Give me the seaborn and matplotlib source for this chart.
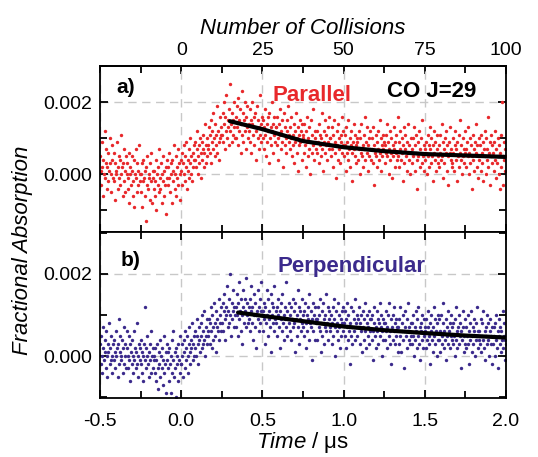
import numpy as np
import pandas as pd
import matplotlib
matplotlib.use("Agg")
import matplotlib.pyplot as plt
import seaborn as sns
from matplotlib.ticker import MultipleLocator, FormatStrFormatter

sns.set_theme(style="ticks")
plt.rcParams['font.family'] = ['Liberation Sans', 'DejaVu Sans']
plt.rcParams['mathtext.fontset'] = 'custom'
plt.rcParams['mathtext.it'] = 'Liberation Sans:italic'
plt.rcParams['mathtext.rm'] = 'Liberation Sans'
plt.rcParams['axes.unicode_minus'] = False
for k in ('text.color', 'axes.labelcolor', 'xtick.color', 'ytick.color', 'axes.edgecolor'):
    plt.rcParams[k] = 'black'
plt.rcParams.update({
    'xtick.direction': 'in', 'ytick.direction': 'in',
    'xtick.major.size': 6, 'ytick.major.size': 6,
    'xtick.minor.size': 5, 'ytick.minor.size': 5,
    'xtick.major.width': 1.3, 'ytick.major.width': 1.3,
    'xtick.minor.width': 1.3, 'ytick.minor.width': 1.3,
    'xtick.minor.visible': True, 'ytick.minor.visible': True,
    'xtick.top': True, 'ytick.right': True,
    'xtick.bottom': True, 'ytick.left': True,
})

# ---- data (absorption values in units of 1e-4), evenly sampled from -0.5 to 2.0 us ----
parallel_vals = [
    5, -3, 1, 9, 2, -6, 4, 0, 12, -1, 3, 7, -4, 2, 6, -2, 1, 10, 3, -5, 0, 8, 4, -1,
    -2, 6, 3, -7, 1, 0, 9, -4, 2, 5, -1, 4, -3, 11, 0, 2, -6, 3, 7, -2, 1, -5, 5, 0,
    3, -4, -1, 6, -8, 0, 2, -3, 5, 1, -6, -2, 4, -9, 0, 7, -1, 3, -5, 1, -3, 8, -2, 0,
    -5, 0, 3, -9, -2, 4, -1, -6, 1, -13, 2, -3, 5, -4, -1, 0, -7, 3, -2, 6, -8, -1, 1, -4,
    1, -6, -2, 4, -10, 0, -3, 2, -5, 7, -1, -4, 3, -8, 0, -2, 5, -6, 1, -3, -11, 2, -1, 4,
    -3, 2, 6, -1, -5, 3, 0, -8, 4, 1, -2, 8, -4, 0, 5, -6, 2, -1, 7, -3, 3, 0, -7, 4,
    1, 6, -3, 3, 8, 0, -2, 5, 2, 9, -4, 4, 1, 7, -1, 3, 10, 0, 5, -2, 6, 2, 8, 4,
    4, 9, 2, 7, 12, 5, 0, 8, 3, 10, 6, -1, 9, 4, 7, 11, 2, 6, 14, 3, 8, 5, 10, 7,
    8, 13, 6, 11, 3, 15, 9, 12, 7, 17, 10, 5, 14, 8, 11, 19, 6, 12, 9, 4, 16, 10, 13, 11,
    11, 17, 9, 20, 14, 7, 16, 12, 22, 10, 15, 13, 8, 18, 12, 25, 14, 9, 17, 11, 15, 20, 13, 10,
    16, 10, 19, 13, 8, 21, 15, 12, 18, 6, 14, 23, 11, 17, 9, 15, 20, 12, 7, 16, 13, 19, 10, 14,
    12, 18, 9, 15, 6, 14, 20, 11, 16, 8, 13, 17, 4, 12, 19, 10, 15, 13, 7, 22, 11, 14, 9, 16,
    10, 15, 7, 13, 18, 11, 5, 14, 9, 16, 12, 3, 17, 10, 13, 8, 20, 12, 6, 14, 11, 16, 9, 13,
    13, 8, 16, 10, 4, 14, 11, 18, 7, 12, 9, 15, 2, 11, 17, 8, 13, 10, 6, 15, 12, 19, 9, 11,
    7, 13, 10, 16, 5, 11, 8, 14, 3, 12, 9, 17, 6, 10, 13, 1, 11, 8, 15, 9, 12, 4, 14, 10,
    11, 6, 14, 8, 2, 12, 9, 16, 5, 10, 7, 13, 0, 9, 15, 6, 11, 8, 18, 4, 10, 12, 7, 9,
    6, 12, 9, 3, 14, 8, 11, 5, 10, 17, 7, 1, 12, 9, 6, 15, 8, 11, 4, 13, 9, 7, 16, 10,
    10, 5, 13, 7, 2, 11, 8, 15, 6, 9, -1, 12, 8, 4, 14, 7, 10, 3, 11, 9, 16, 6, 8, 12,
    5, 11, 8, 1, 13, 6, 9, 4, 15, 7, 10, 2, 8, 12, 6, -2, 9, 7, 14, 5, 11, 3, 8, 10,
    9, 4, 12, 7, 0, 10, 6, 14, 5, 8, 2, 11, 7, 16, 4, 9, 6, 13, 1, 8, 10, 5, 12, 7,
    4, 10, 7, 13, 3, 8, -3, 6, 11, 5, 9, 2, 12, 7, 4, 15, 6, 10, 1, 8, 5, 11, 7, 9,
    8, 3, 11, 6, 14, 5, 9, 0, 7, 12, 4, 10, 6, -1, 8, 5, 13, 7, 2, 9, 6, 11, 4, 16,
    5, 9, 2, 12, 7, 4, 10, 6, -2, 8, 13, 3, 7, 11, 5, 1, 9, 6, 14, 4, 8, 0, 10, 6,
    7, 3, 10, 5, 13, 1, 8, 6, 11, 4, -4, 9, 5, 12, 7, 2, 10, 6, 3, 15, 5, 8, 1, 7,
    4, 9, 6, 0, 11, 5, 8, 2, 13, 7, 3, 10, 5, -2, 8, 6, 12, 4, 9, 1, 7, 11, 5, 3,
    8, 2, 11, 6, 4, 14, 5, 9, -1, 7, 3, 10, 6, 12, 1, 8, 5, -3, 9, 6, 13, 4, 7, 2,
    3, 10, 6, 1, 8, 12, 4, 7, -2, 9, 5, 11, 2, 6, 15, 4, 8, 0, 10, 5, 7, 3, 12, 6,
    7, 2, 9, 5, 13, 0, 6, 10, 3, 8, -4, 5, 11, 4, 7, 1, 9, 6, 14, 2, 8, 5, -1, 10,
    4, 8, 1, 11, 6, 3, 9, -2, 7, 12, 5, 0, 10, 4, 7, 16, 2, 6, 9, -3, 5, 11, 3, 8,
    6, 1, 9, 4, 12, -1, 7, 3, 10, 5, 0, 8, -4, 6, 11, 2, 20, 5, -3, 9, 4, 7, 1, 5,
]
perpendicular_vals = [
    3, -2, 5, 0, -4, 2, 7, -1, 1, 4, -3, 6, 0, -5, 3, 1, 8, -2, 2, -1, 5, -4, 0, 3,
    -1, 4, 1, -3, 6, 0, 2, -5, 3, 9, -2, 1, 5, -1, 0, 4, -4, 2, 7, -2, 3, 0, -3, 6,
    2, -3, 0, 5, -1, -6, 3, 1, -2, 4, 0, -4, 6, -1, 2, -3, 1, 8, -2, 0, -5, 3, -1, 2,
    -2, 4, -4, 1, 0, -6, 3, -1, 12, 2, -3, 0, 5, -2, -5, 1, 3, -1, -4, 6, 0, -3, 2, -1,
    0, -4, 2, -6, -1, 3, -3, -8, 1, -2, 4, -5, 0, -3, 2, -7, -1, 5, -4, -2, 1, -9, -1, 3,
    -3, 1, -6, 2, -2, -9, 0, 4, -4, -1, 6, -5, 1, -3, -10, 2, -2, 0, -6, 3, -1, -4, 5, -2,
    -2, 3, 0, -5, 4, 1, -3, 6, 2, -1, 5, 0, -4, 3, 7, 1, -2, 4, 2, 8, -1, 3, 0, 5,
    2, 6, 0, 5, 9, 3, -2, 7, 4, 1, 8, 5, 10, 2, 6, 3, 11, 4, 0, 7, 5, 9, 3, 6,
    5, 9, 3, 8, 12, 6, 2, 10, 7, 4, 13, 8, 5, 11, 1, 7, 9, 6, 14, 4, 8, 10, 6, 12,
    8, 13, 6, 11, 15, 9, 4, 12, 10, 17, 7, 11, 14, 8, 20, 10, 5, 13, 9, 16, 11, 7, 12, 10,
    12, 7, 15, 10, 5, 13, 9, 18, 11, 6, 14, 10, 3, 12, 16, 8, 11, 14, 7, 19, 10, 13, 8, 12,
    9, 14, 6, 11, 17, 8, 12, 4, 10, 15, 7, 13, 10, 2, 11, 16, 9, 12, 6, 14, 8, 18, 11, 10,
    11, 6, 13, 9, 3, 12, 8, 16, 10, 5, 14, 9, 11, 7, 15, 1, 10, 13, 8, 12, 6, 17, 9, 11,
    8, 12, 5, 10, 14, 7, 11, 2, 9, 13, 6, 15, 8, 10, 4, 12, 9, 18, 7, 11, 5, 9, 13, 8,
    10, 6, 12, 4, 9, 14, 7, 11, 8, 1, 13, 9, 5, 10, 16, 7, 12, 3, 9, 11, 6, 14, 8, 10,
    7, 11, 5, 13, 8, 2, 10, 6, 12, 9, 15, 4, 8, 11, 7, -1, 9, 13, 6, 10, 4, 12, 8, 9,
    9, 4, 12, 7, 10, 14, 6, 1, 8, 11, 5, 13, 9, 3, 10, 7, 15, 6, 8, 12, 4, 9, 11, 7,
    6, 10, 3, 8, 12, 5, 9, 14, 7, 0, 11, 6, 8, 4, 13, 7, 10, 2, 9, 5, 11, 8, 6, 12,
    8, 5, 11, 2, 9, 7, 13, 4, 10, 6, -2, 8, 12, 5, 7, 3, 11, 9, 6, 14, 4, 8, 7, 10,
    5, 9, 7, 12, 3, 8, 6, 10, 1, 7, 11, 4, 9, 6, 13, 2, 8, 10, 5, 7, 3, 11, 6, 9,
    9, 4, 10, 6, -1, 8, 12, 5, 7, 2, 11, 6, 9, 3, 8, 13, 5, 7, 10, 0, 6, 9, 4, 8,
    4, 8, 6, 11, 2, 7, 10, 5, 13, 3, 6, 9, -2, 7, 4, 10, 6, 12, 3, 8, 5, 9, 7, 1,
    7, 3, 9, 5, 12, 1, 6, 8, 4, 10, 6, -3, 7, 11, 5, 2, 9, 6, 13, 4, 7, 3, 8, 5,
    3, 8, 5, 10, 0, 7, 4, 11, 6, 2, 9, 5, 12, 3, 7, -1, 8, 6, 10, 4, 2, 9, 5, 7,
    6, 2, 9, 4, 7, 11, 3, 5, -2, 8, 6, 10, 4, 1, 7, 12, 5, 3, 9, 6, 0, 8, 4, 10,
    4, 9, 1, 6, 10, 5, 3, 8, 13, 2, 6, 4, 9, -1, 7, 5, 11, 3, 6, 8, 2, 10, 5, 4,
    7, 3, 8, 5, 0, 9, 4, 12, 6, 2, 7, 10, 3, 5, 8, -3, 6, 4, 11, 7, 1, 5, 9, 3,
    2, 7, 5, 10, 3, 6, -2, 8, 4, 11, 5, 1, 7, 3, 9, 6, 0, 8, 4, 12, 5, 2, 6, 4,
    6, 3, 9, 1, 5, 8, 4, 11, 2, 6, -1, 7, 5, 10, 3, 4, 8, 0, 6, 9, 3, 5, -2, 7,
    3, 7, 5, 0, 8, 4, 10, 2, 6, -3, 5, 9, 3, 7, 1, 6, 4, 11, 2, 5, 8, -1, 4, 3,
]
fit_time = [0.30, 0.50, 0.75, 1.00, 1.25, 1.50, 1.75, 2.00]
parallel_fit = [14.7, 12.5, 9.2, 7.5, 6.4, 5.6, 5.2, 4.8]
perp_fit_time = [0.35, 0.50, 0.75, 1.00, 1.25, 1.50, 1.75, 2.00]
perpendicular_fit = [10.6, 9.8, 8.5, 7.2, 6.3, 5.6, 5.0, 4.5]

SCALE = 1e-4
RED = "#E8282B"
BLUE = "#3B2A8C"


def frame(vals):
    return pd.DataFrame({"t": np.linspace(-0.5, 2.0, len(vals)),
                         "y": np.array(vals) * SCALE})


fig = plt.figure(figsize=(5.38, 4.57), dpi=100)
fig.patch.set_facecolor("white")
L, R = 100 / 538, 506 / 538
ax1 = fig.add_axes([L, 1 - 232 / 457, R - L, 166 / 457])
ax2 = fig.add_axes([L, 1 - 398 / 457, R - L, 166 / 457], sharex=ax1)

sns.scatterplot(data=frame(parallel_vals), x="t", y="y", ax=ax1, color=RED,
                s=6, linewidth=0, zorder=2)
sns.lineplot(x=fit_time, y=np.array(parallel_fit) * SCALE, ax=ax1,
             color="black", lw=3, zorder=3)
sns.scatterplot(data=frame(perpendicular_vals), x="t", y="y", ax=ax2, color=BLUE,
                s=6, linewidth=0, zorder=2)
sns.lineplot(x=perp_fit_time, y=np.array(perpendicular_fit) * SCALE, ax=ax2,
             color="black", lw=3, zorder=3)

ax1.set_ylim(-0.0016, 0.003)
ax2.set_ylim(-0.00102, 0.00302)
ax1.set_xlim(-0.5, 2.0)

for ax in (ax1, ax2):
    ax.set_xlabel("")
    ax.set_ylabel("")
    ax.xaxis.set_major_locator(MultipleLocator(0.5))
    ax.xaxis.set_minor_locator(MultipleLocator(0.25))
    ax.yaxis.set_major_locator(MultipleLocator(0.002))
    ax.yaxis.set_minor_locator(MultipleLocator(0.001))
    ax.yaxis.set_major_formatter(FormatStrFormatter("%.3f"))
    ax.tick_params(axis="y", which="major", labelsize=14, pad=6)
    ax.tick_params(axis="x", which="major", labelsize=14, pad=11)
    ax.grid(True, which="major", color="#C8C8C8", linestyle=(0, (6, 4)), lw=1.0,
            zorder=0)
    for s in ax.spines.values():
        s.set_visible(True)
        s.set_color("black")
        s.set_linewidth(1.3)
        s.set_zorder(4)
    ax.set_facecolor("white")

ax1.tick_params(axis="x", which="both", labelbottom=False, top=False)

sec = ax1.secondary_xaxis("top", functions=(lambda t: t * 50, lambda n: n / 50))
sec.set_xticks([0, 25, 50, 75, 100])
sec.xaxis.set_minor_locator(MultipleLocator(12.5))
sec.tick_params(which="both", direction="in")
sec.tick_params(which="major", labelsize=14, pad=5)
sec.spines["top"].set_linewidth(1.3)
sec.set_xlabel("Number of Collisions", fontsize=16, style="italic", labelpad=6)

ax1.text(0.04, 0.87, "a)", transform=ax1.transAxes, fontsize=15, weight="bold",
         va="center", ha="left")
ax1.text(0.424, 0.825, "Parallel", transform=ax1.transAxes, fontsize=16,
         weight="bold", color=RED, va="center", ha="left")
ax1.text(0.707, 0.845, "CO J=29", transform=ax1.transAxes, fontsize=16,
         weight="bold", color="black", va="center", ha="left")
ax2.text(0.05, 0.83, "b)", transform=ax2.transAxes, fontsize=15, weight="bold",
         va="center", ha="left")
ax2.text(0.436, 0.79, "Perpendicular", transform=ax2.transAxes, fontsize=16,
         weight="bold", color=BLUE, va="center", ha="left")

ax2.set_xlabel(r"$\mathit{Time}$ / μs", fontsize=16, labelpad=0)
fig.text(0.042, 1 - 250 / 457, "Fractional Absorption", rotation=90, fontsize=16,
         style="italic", va="center", ha="center")

fig.savefig("out.png", dpi=100, facecolor="white")
